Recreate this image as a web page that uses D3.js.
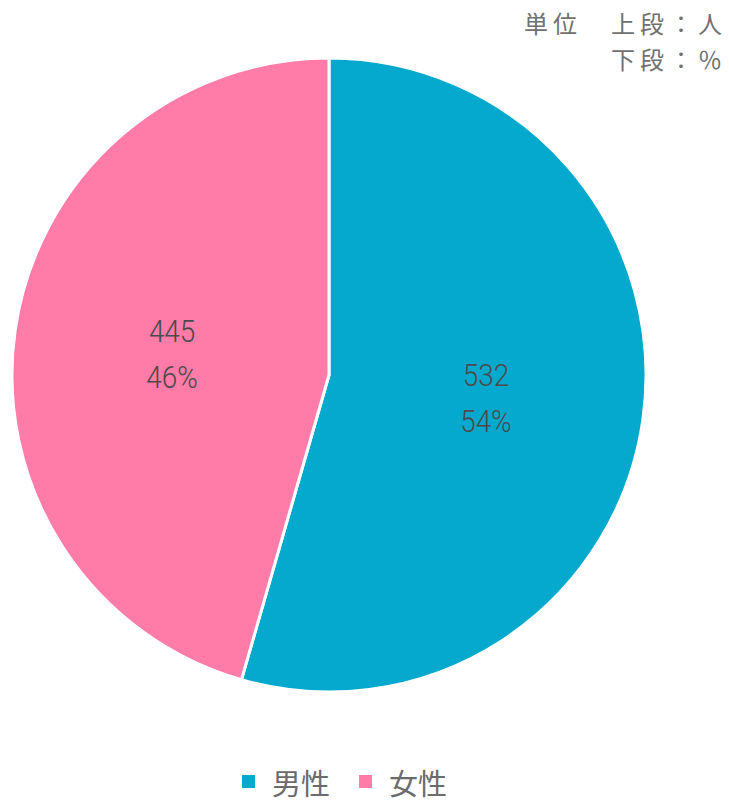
<!DOCTYPE html>
<html><head><meta charset="utf-8">
<script src="https://cdn.jsdelivr.net/npm/d3@7"></script>
<style>body{margin:0;background:#fff;}svg{display:block;font-family:"Noto Sans CJK JP","Noto Sans",sans-serif;}</style>
</head><body>
<svg id="c" width="729" height="802"></svg>
<script>
const categories = ["男性", "女性"];
const counts = [532, 445];
const percents = ["54%", "46%"];
const colors = ["#05A9CD", "#FF7BA8"];
const unitLines = ["単位　上段：人", "下段：％"];

const svg = d3.select("#c");
const cx = 329, cy = 375, R = 317;
const pie = d3.pie().sort(null).value(d => d)(counts);
const arc = d3.arc().innerRadius(0).outerRadius(R);
const labelArc = d3.arc().innerRadius(R * 0.5).outerRadius(R * 0.5);
const g = svg.append("g").attr("transform", `translate(${cx},${cy})`);
g.selectAll("path").data(pie).join("path")
  .attr("d", arc).attr("fill", (d, i) => colors[i])
  .attr("stroke", "#fff").attr("stroke-width", 3).attr("stroke-linejoin", "round");
const lg = g.selectAll("g.lab").data(pie).join("g").attr("class", "lab")
  .attr("transform", d => { const c = labelArc.centroid(d); return `translate(${c[0]},${c[1]}) scale(0.87,1)`; });
const numFont = 'Roboto,"Noto Sans",sans-serif';
lg.append("text").attr("text-anchor", "middle").attr("y", -11)
  .style("font-family", numFont).attr("font-weight", 300)
  .attr("font-size", 32).attr("fill", "#4a4a4a").text((d, i) => counts[i]);
lg.append("text").attr("text-anchor", "middle").attr("y", 35)
  .style("font-family", numFont).attr("font-weight", 300)
  .attr("font-size", 32).attr("fill", "#4a4a4a").text((d, i) => percents[i]);

svg.selectAll("text.unit").data(unitLines).join("text").attr("class", "unit")
  .attr("x", 727).attr("y", (d, i) => 33 + i * 36).attr("text-anchor", "end")
  .attr("letter-spacing", 5)
  .attr("font-size", 24).attr("fill", "#707070").text(d => d);

const legX = [242, 359];
const leg = svg.selectAll("g.leg").data(categories).join("g").attr("class", "leg")
  .attr("transform", (d, i) => `translate(${legX[i]},775)`);
leg.append("rect").attr("width", 13).attr("height", 13).attr("fill", (d, i) => colors[i]);
leg.append("text").attr("x", 30).attr("y", 20).attr("font-size", 29).attr("fill", "#6b6b6b").text(d => d);
</script>
</body></html>
